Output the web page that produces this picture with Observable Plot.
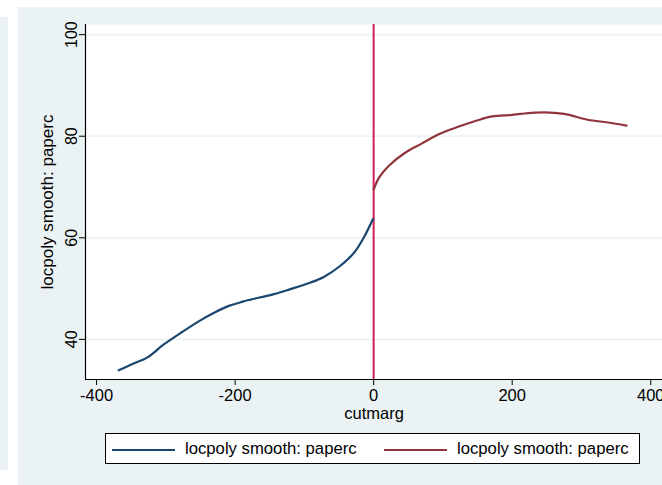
<!DOCTYPE html>
<html>
<head>
<meta charset="utf-8">
<script src="https://cdn.jsdelivr.net/npm/d3@7"></script>
<script src="https://cdn.jsdelivr.net/npm/@observablehq/plot@0.6"></script>
<style>
  html, body { margin: 0; padding: 0; background: #ffffff; overflow: hidden; }
  #page { position: relative; width: 662px; height: 485px; font-family: "Liberation Sans", Arial, sans-serif; }
  .band { position: absolute; background: #eaf2f3; }
  #chart { position: absolute; left: 0; top: 0; }
  #legend {
    position: absolute; left: 105px; top: 433px; width: 533px; height: 29px;
    background: #ffffff; border: 1px solid #000000; box-sizing: content-box;
    font-size: 16.7px; color: #000000;
  }
  .key { position: absolute; top: 15px; height: 2px; width: 63px; }
  .lab { position: absolute; top: 5px; line-height: 20px; white-space: nowrap; }
</style>
</head>
<body>
<div id="page">
  <div class="band" style="left:0;top:17px;width:8px;height:453px;"></div>
  <div class="band" style="left:18px;top:7px;width:644px;height:478px;"></div>
  <div id="chart"></div>
  <div id="legend"></div>
</div>
<script>
// Local polynomial smooth of paperc on each side of the cutoff
const leftCut = [-368, -344, -327, -303, -276, -252, -231, -209, -192, -182, -144, -120, -91, -72, -48, -28, -14, -1];
const leftSmooth = [33.9, 35.4, 36.4, 39.0, 41.5, 43.6, 45.2, 46.6, 47.3, 47.7, 48.9, 49.9, 51.2, 52.3, 54.5, 57.1, 60.1, 63.7];
const rightCut = [0, 8, 22, 46, 70, 94, 123, 147, 171, 200, 212, 246, 275, 309, 338, 365];
const rightSmooth = [69.5, 71.9, 74.2, 76.8, 78.6, 80.4, 81.9, 83.0, 83.9, 84.2, 84.4, 84.7, 84.4, 83.25, 82.7, 82.1];

const xTicks = [-400, -200, 0, 200, 400];
const yTicks = [40, 60, 80, 100];
const cutoff = [0];
const seriesNames = ["locpoly smooth: paperc", "locpoly smooth: paperc"];
const seriesColors = ["#1a476f", "#90353b"];

const xDomain = [-416, 417];
const yDomain = [32.1, 102];

const left = leftCut.map((c, i) => ({cutmarg: c, paperc: leftSmooth[i]}));
const right = rightCut.map((c, i) => ({cutmarg: c, paperc: rightSmooth[i]}));

const font = "Liberation Sans, Arial, sans-serif";

const chart = Plot.plot({
  width: 662,
  height: 430,
  marginLeft: 85,
  marginRight: 0,
  marginTop: 24,
  marginBottom: 51,
  style: {background: "transparent", fontFamily: font, color: "#000000", overflow: "hidden"},
  x: {domain: xDomain, label: null},
  y: {domain: yDomain, label: null},
  marks: [
    Plot.frame({fill: "#ffffff", stroke: "none"}),
    Plot.gridY(yTicks, {stroke: "#eaf2f3", strokeOpacity: 1, strokeWidth: 1.5}),
    // axis lines
    Plot.ruleX([xDomain[0]], {stroke: "#000000", strokeWidth: 1.2}),
    Plot.ruleY([yDomain[0]], {stroke: "#000000", strokeWidth: 1.2}),
    // y ticks with rotated labels
    Plot.axisY({ticks: yTicks, tickSize: 6, tickFormat: () => "", label: null, stroke: "#000000"}),
    Plot.text(yTicks, {y: d => d, text: d => String(d), frameAnchor: "left", textAnchor: "middle", dx: -14, rotate: -90, fontSize: 16, fill: "#000000"}),
    Plot.text([seriesNames[0]], {frameAnchor: "left", textAnchor: "middle", dx: -38, rotate: -90, fontSize: 17, fill: "#000000"}),
    // x axis
    Plot.axisX({ticks: xTicks, tickSize: 6, tickPadding: 4, tickFormat: d => String(d), fontSize: 16.5, label: null, stroke: "#000000", fill: "#000000"}),
    Plot.text(["cutmarg"], {frameAnchor: "bottom", dy: 39, fontSize: 16.5, fill: "#000000"}),
    // cutoff line
    Plot.ruleX(cutoff, {stroke: "#cf2257", strokeWidth: 2}),
    // smooths
    Plot.line(left, {x: "cutmarg", y: "paperc", stroke: seriesColors[0], strokeWidth: 2.2, curve: "catmull-rom"}),
    Plot.line(right, {x: "cutmarg", y: "paperc", stroke: seriesColors[1], strokeWidth: 2.2, curve: "catmull-rom"})
  ]
});
document.getElementById("chart").appendChild(chart);

// legend
const legend = document.getElementById("legend");
const keyLeft = [6, 278];
const labLeft = [79, 351];
seriesNames.forEach((name, i) => {
  const k = document.createElement("div");
  k.className = "key";
  k.style.left = keyLeft[i] + "px";
  k.style.background = seriesColors[i];
  legend.appendChild(k);
  const t = document.createElement("div");
  t.className = "lab";
  t.style.left = labLeft[i] + "px";
  t.textContent = name;
  legend.appendChild(t);
});
</script>
</body>
</html>
